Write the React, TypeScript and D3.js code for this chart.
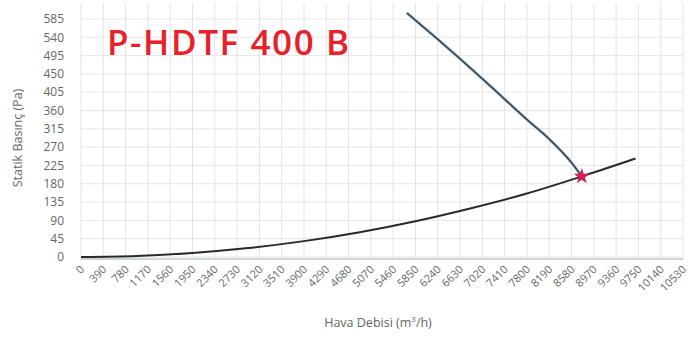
import React from "react";
import * as d3 from "d3";

const xTicks = [0, 390, 780, 1170, 1560, 1950, 2340, 2730, 3120, 3510, 3900, 4290, 4680, 5070, 5460, 5850, 6240, 6630, 7020, 7410, 7800, 8190, 8580, 8970, 9360, 9750, 10140, 10530];
const yTicks = [0, 45, 90, 135, 180, 225, 270, 315, 360, 405, 450, 495, 540, 585];

const fanFlow = [5700, 6240, 6630, 7020, 7410, 7800, 8190, 8580, 8760];
const fanPressure = [600, 535, 487, 438, 388, 338, 290, 232, 198];

const sysFlow = [0, 975, 1950, 2925, 3900, 4875, 5850, 6825, 7800, 8760, 9700];
const sysPressure = [0, 2.5, 10, 22, 39, 61, 88, 120, 156, 198, 242];

const opPoint = { flow: 8760, pressure: 198 };

const title = "P-HDTF 400 B";

export default function App() {
  const W = 695, H = 337;
  const x = d3.scaleLinear().domain([0, 10530]).range([81, 683]);
  const y = d3.scaleLinear().domain([0, 585]).range([257, 19]);
  const line = d3.line<[number, number]>().x(d => x(d[0])).y(d => y(d[1])).curve(d3.curveMonotoneX);
  const fanPts = fanFlow.map((f, i) => [f, fanPressure[i]] as [number, number]);
  const sysPts = sysFlow.map((f, i) => [f, sysPressure[i]] as [number, number]);
  const star = d3.symbol().type(d3.symbolStar).size(80)() as string;
  const font = "'Open Sans', 'DejaVu Sans', sans-serif";

  return (
    <svg width={W} height={H} style={{ position: "absolute", left: 0, top: 0, background: "#fff" }} fontFamily={font}>
      <rect x={0} y={0} width={W} height={H} fill="#fff" />
      {yTicks.map(t => (
        <line key={"hy" + t} x1={81} x2={683} y1={y(t)} y2={y(t)} stroke="#e6e6e6" strokeWidth={1} />
      ))}
      {xTicks.map(t => (
        <line key={"vx" + t} x1={x(t)} x2={x(t)} y1={3} y2={259} stroke="#e3e3e3" strokeWidth={1} />
      ))}
      <line x1={81} x2={683} y1={259} y2={259} stroke="#cfd4d8" strokeWidth={2} />
      {yTicks.map(t => (
        <text key={"yl" + t} x={64} y={y(t)} dy="0.35em" textAnchor="end" fontSize={12} fill="#666">{t}</text>
      ))}
      {xTicks.map(t => (
        <text key={"xl" + t} transform={`translate(${x(t) + 4},${270}) rotate(-45)`} textAnchor="end" fontSize={11} fill="#666">{t}</text>
      ))}
      <text transform={`translate(22,138) rotate(-90)`} textAnchor="middle" fontSize={12.5} fill="#666">Statik Basınç (Pa)</text>
      <text x={378} y={327} textAnchor="middle" fontSize={12.5} fill="#666">Hava Debisi (m<tspan fontSize={8} dy={-5}>3</tspan><tspan dy={5}>/h)</tspan></text>
      <path d={line(sysPts) as string} fill="none" stroke="#2a2a2a" strokeWidth={2} />
      <path d={line(fanPts) as string} fill="none" stroke="#cfe6f5" strokeWidth={4} opacity={0.7} />
      <path d={line(fanPts) as string} fill="none" stroke="#3d4f5c" strokeWidth={2} />
      <path d={star} transform={`translate(${x(opPoint.flow)},${y(opPoint.pressure)})`} fill="#d41f56" />
      <text x={107} y={55} fontSize={35} fontWeight={600} letterSpacing={1.6} fill="#e8202a" fontFamily="'Open Sans', sans-serif">{title}</text>
    </svg>
  );
}
